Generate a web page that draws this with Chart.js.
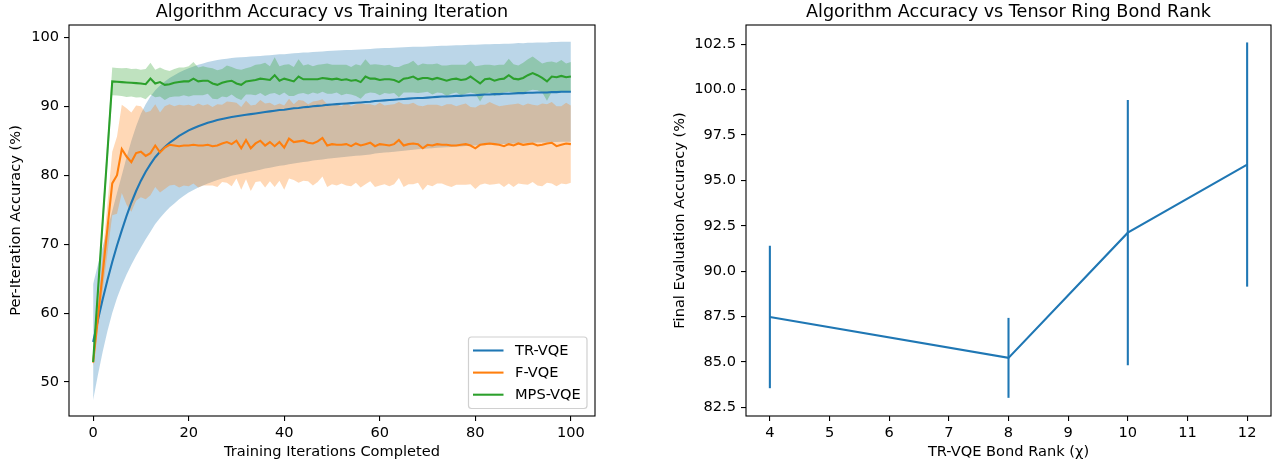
<!DOCTYPE html>
<html><head><meta charset="utf-8">
<script src="https://cdn.jsdelivr.net/npm/chart.js@4.4.1/dist/chart.umd.min.js"></script>
<style>
html,body{margin:0;padding:0;background:#fff;}
#wrap{position:relative;width:1278px;height:465px;overflow:hidden;background:#fff;}
canvas{position:absolute;top:0;}
#c1{left:0;} #c2{left:640px;}
</style></head><body>
<div id="wrap"><canvas id="c1" width="640" height="465"></canvas><canvas id="c2" width="638" height="465"></canvas></div>
<script>
// ---------------- DATA ----------------
const seriesNames = ['TR-VQE', 'F-VQE', 'MPS-VQE'];
const iterations = Array.from({length: 101}, (_, i) => i);

const trMean = [55.8,59.0,62.0,64.8,67.4,69.8,72.0,74.1,76.0,77.7,
 79.2,80.5,81.6,82.6,83.4,84.1,84.7,85.2,85.7,86.1,
 86.5,86.8,87.1,87.35,87.6,87.8,88.0,88.15,88.3,88.45,
 88.55,88.65,88.75,88.85,88.95,89.05,89.15,89.25,89.35,89.45,
 89.5,89.6,89.7,89.75,89.85,89.9,90.0,90.05,90.1,90.2,
 90.25,90.3,90.35,90.4,90.45,90.5,90.55,90.6,90.65,90.75,
 90.8,90.85,90.9,90.95,91.0,91.05,91.1,91.15,91.2,91.2,
 91.25,91.3,91.35,91.4,91.4,91.45,91.5,91.5,91.55,91.6,
 91.6,91.65,91.7,91.7,91.75,91.75,91.8,91.8,91.85,91.9,
 91.9,91.95,91.95,92.0,92.0,92.0,92.05,92.05,92.1,92.1,
 92.1];
const trStd = [8.4,8.0,7.6,7.4,7.4,7.6,8.0,8.5,9.0,9.4,
 9.7,9.8,9.8,9.7,9.6,9.5,9.4,9.3,9.2,9.1,
 9.0,8.95,8.9,8.85,8.8,8.75,8.7,8.65,8.6,8.55,
 8.5,8.45,8.4,8.35,8.3,8.25,8.2,8.16,8.12,8.08,
 8.05,8.02,7.99,7.96,7.93,7.9,7.88,7.86,7.84,7.82,
 7.8,7.78,7.76,7.74,7.72,7.7,7.68,7.66,7.64,7.62,
 7.6,7.58,7.56,7.54,7.52,7.5,7.48,7.46,7.44,7.42,
 7.4,7.39,7.38,7.37,7.36,7.35,7.34,7.33,7.32,7.31,
 7.3,7.3,7.29,7.29,7.28,7.28,7.27,7.27,7.26,7.26,
 7.25,7.25,7.25,7.25,7.25,7.25,7.25,7.25,7.25,7.25,
 7.25];

const fMean = [52.8,59.3,65.8,72.3,78.8,80.0,83.8,82.7,81.9,83.2,
 83.4,82.8,83.2,84.3,83.3,84.0,84.4,84.3,84.2,84.3,
 84.3,84.4,84.3,84.3,84.4,84.2,84.3,84.6,84.8,84.5,
 85.0,83.9,85.1,83.9,84.6,85.0,84.3,84.8,84.2,84.8,
 84.0,85.3,84.8,84.9,85.0,84.7,84.6,84.9,85.4,84.3,
 84.5,84.4,84.4,84.5,84.2,84.6,84.3,84.5,84.7,84.2,
 84.5,84.4,84.3,84.5,85.1,84.3,84.5,84.6,84.5,83.9,
 84.4,84.3,84.5,84.4,84.4,84.3,84.3,84.4,84.5,84.3,
 83.9,84.4,84.5,84.6,84.5,84.4,84.2,84.5,84.3,84.6,
 84.4,84.5,84.6,84.3,84.4,84.6,84.7,84.2,84.4,84.6,
 84.5];
const fStd = [0.6,1.6,2.6,3.6,4.6,5.6,6.4,7.0,7.2,6.9,
 6.6,6.3,6.1,6.0,5.8,6.0,5.9,5.7,6.0,5.8,
 5.9,5.6,6.1,5.8,5.9,5.7,6.0,5.6,5.9,6.1,
 5.5,6.0,5.7,6.2,5.6,5.9,6.1,5.7,5.9,5.6,
 6.1,5.8,5.5,6.0,5.8,5.6,6.1,5.9,5.6,6.0,
 5.8,5.9,5.6,6.0,5.8,5.7,6.1,5.8,5.6,5.9,
 6.0,5.7,5.9,5.8,5.5,6.0,5.8,5.9,5.6,6.1,
 5.8,5.9,5.7,5.6,5.9,6.0,5.7,5.8,5.9,5.6,
 5.9,5.8,5.7,6.0,5.8,5.6,5.9,5.7,6.0,5.8,
 5.7,5.9,5.6,5.8,6.0,5.7,5.9,5.8,5.6,5.9,
 5.6];

const mpsMean = [52.9,63.1,73.3,83.4,93.6,93.55,93.5,93.45,93.4,93.35,
 93.3,93.2,94.0,93.3,93.5,93.1,93.2,93.4,93.5,93.6,
 93.6,94.0,93.6,93.7,93.7,93.3,93.1,93.4,93.6,93.7,
 93.3,93.1,93.6,93.7,93.8,94.0,93.9,93.8,94.5,93.7,
 94.0,93.8,93.6,94.3,93.9,93.9,93.9,93.9,94.1,94.0,
 93.9,94.0,93.8,93.9,93.7,93.8,93.5,94.3,94.0,94.0,
 93.8,93.9,93.9,93.8,93.5,94.0,94.1,94.3,93.9,94.1,
 94.1,93.9,94.1,93.9,93.7,93.9,94.0,93.8,93.9,94.3,
 93.8,93.3,93.9,94.0,93.7,93.9,94.0,94.5,94.0,93.9,
 94.1,94.5,94.8,94.5,94.1,93.6,94.3,94.2,94.4,94.2,
 94.3];
const mpsStd = [0.5,1.0,1.5,1.8,2.0,2.0,2.0,2.1,2.0,2.1,
 2.0,2.2,2.3,2.0,2.1,2.2,1.9,2.0,2.1,2.0,
 2.2,2.4,2.0,2.1,1.9,2.2,2.1,2.0,2.3,2.0,
 2.1,2.2,1.9,2.0,2.2,2.1,2.4,2.0,2.6,2.1,
 2.0,2.3,2.1,2.5,2.0,2.2,1.9,2.1,2.0,2.2,
 2.1,2.0,2.2,2.1,2.0,2.3,2.4,2.5,2.0,2.1,
 2.2,2.0,2.1,1.9,2.2,2.0,2.1,2.3,2.0,2.1,
 2.0,2.2,2.1,2.0,2.2,2.1,2.0,2.2,2.1,2.3,
 2.0,2.6,2.1,2.0,2.2,2.1,2.0,2.4,2.1,2.0,
 2.2,2.3,2.4,2.2,2.1,2.8,2.2,2.1,2.3,2.0,
 2.1];

const xTicksLeft = [0, 20, 40, 60, 80, 100];
const yTicksLeft = [50, 60, 70, 80, 90, 100];

const bondRanks = [4, 8, 10, 12];
const rankMean = [87.48, 85.23, 92.12, 95.87];
const rankErr = [3.92, 2.2, 7.3, 6.72];
const xTicksRight = [4, 5, 6, 7, 8, 9, 10, 11, 12];
const yTicksRight = [82.5, 85.0, 87.5, 90.0, 92.5, 95.0, 97.5, 100.0, 102.5];

// ---------------- STYLE ----------------
const FONT = 'DejaVu Sans';
const lineColors = ['#1f77b4', '#ff7f0e', '#2ca02c'];
const bandColors = ['rgba(31,119,180,0.3)', 'rgba(255,127,14,0.3)', 'rgba(44,160,44,0.3)'];
const FS = 14.6;
const tickFont = {family: FONT, size: FS};
const LW = 2.08;

Chart.defaults.font.family = FONT;
Chart.defaults.color = '#000';

function frameTitlePlugin(title) {
  return {
    id: 'frameTitle',
    afterDraw(chart) {
      const {ctx, chartArea: a} = chart;
      ctx.save();
      ctx.strokeStyle = '#000';
      ctx.lineWidth = 1.1;
      ctx.strokeRect(a.left, a.top, a.right - a.left, a.bottom - a.top);
      ctx.fillStyle = '#000';
      ctx.font = '17.6px "' + FONT + '"';
      ctx.textAlign = 'center';
      ctx.textBaseline = 'alphabetic';
      ctx.fillText(title, (a.left + a.right) / 2, 16.5);
      ctx.restore();
    }
  };
}

const legendPlugin = {
  id: 'mplLegend',
  afterDraw(chart) {
    const {ctx, chartArea: a} = chart;
    const right = a.right - 8, bottom = a.bottom - 7.5;
    const w = 118.5, h = 71.5;
    const left = right - w, top = bottom - h;
    ctx.save();
    ctx.beginPath();
    if (ctx.roundRect) ctx.roundRect(left, top, w, h, 3); else ctx.rect(left, top, w, h);
    ctx.fillStyle = 'rgba(255,255,255,0.8)';
    ctx.fill();
    ctx.strokeStyle = '#d0d0d0';
    ctx.lineWidth = 1.2;
    ctx.stroke();
    ctx.font = FS + 'px "' + FONT + '"';
    ctx.textBaseline = 'middle';
    ctx.textAlign = 'left';
    seriesNames.forEach((name, i) => {
      const y = top + 13.5 + i * 22.1;
      ctx.strokeStyle = lineColors[i];
      ctx.lineWidth = LW;
      ctx.beginPath();
      ctx.moveTo(left + 4.5, y);
      ctx.lineTo(left + 35, y);
      ctx.stroke();
      ctx.fillStyle = '#000';
      ctx.fillText(name, left + 46.5, y + 0.5);
    });
    ctx.restore();
  }
};

const errorBarPlugin = {
  id: 'errBars',
  afterDatasetsDraw(chart) {
    const {ctx, scales: {x, y}} = chart;
    ctx.save();
    ctx.strokeStyle = lineColors[0];
    ctx.lineWidth = LW;
    bondRanks.forEach((r, i) => {
      const px = x.getPixelForValue(r);
      ctx.beginPath();
      ctx.moveTo(px, y.getPixelForValue(rankMean[i] - rankErr[i]));
      ctx.lineTo(px, y.getPixelForValue(rankMean[i] + rankErr[i]));
      ctx.stroke();
    });
    ctx.restore();
  }
};

function axis(opts) {
  return Object.assign({
    type: 'linear',
    grid: {drawOnChartArea: false, drawTicks: true, tickLength: 5, color: '#000', lineWidth: 1.1},
    border: {display: false},
  }, opts);
}

// ---------------- LEFT CHART ----------------
const means = [trMean, fMean, mpsMean];
const stds = [trStd, fStd, mpsStd];
const leftDatasets = [];
means.forEach((m, s) => {
  leftDatasets.push({
    label: '_lo' + s,
    data: iterations.map((x, i) => ({x, y: m[i] - stds[s][i]})),
    borderColor: 'rgba(0,0,0,0)', borderWidth: 0, pointRadius: 0, fill: false,
    order: 13 - s
  });
  leftDatasets.push({
    label: '_hi' + s,
    data: iterations.map((x, i) => ({x, y: m[i] + stds[s][i]})),
    borderColor: 'rgba(0,0,0,0)', borderWidth: 0, pointRadius: 0,
    fill: '-1', backgroundColor: bandColors[s],
    order: 13 - s
  });
});
means.forEach((m, s) => {
  leftDatasets.push({
    label: seriesNames[s],
    data: iterations.map((x, i) => ({x, y: m[i]})),
    borderColor: lineColors[s], borderWidth: LW, pointRadius: 0, fill: false,
    tension: 0, order: 2 - s
  });
});

new Chart(document.getElementById('c1'), {
  type: 'line',
  data: {datasets: leftDatasets},
  options: {
    responsive: false, animation: false, devicePixelRatio: 1,
    layout: {padding: {left: 0, right: 45, top: 25, bottom: 0}},
    plugins: {legend: {display: false}, tooltip: {enabled: false}, filler: {drawTime: 'beforeDatasetsDraw'}},
    scales: {
      x: axis({
        min: -5.05, max: 105.05,
        afterBuildTicks: sc => { sc.ticks = xTicksLeft.map(v => ({value: v})); },
        afterFit: sc => { sc.height = 49; },
        ticks: {font: tickFont, color: '#000', padding: 3.5, maxRotation: 0, autoSkip: false, callback: v => String(v)},
        title: {display: true, text: 'Training Iterations Completed', font: tickFont, color: '#000', padding: {top: 0, bottom: 4.1}}
      }),
      y: axis({
        min: 45.07, max: 101.78,
        afterBuildTicks: sc => { sc.ticks = yTicksLeft.map(v => ({value: v})); },
        afterFit: sc => { sc.width = 69; },
        ticks: {font: tickFont, color: '#000', padding: 5, autoSkip: false, callback: v => String(v)},
        title: {display: true, text: 'Per-Iteration Accuracy (%)', font: tickFont, color: '#000', padding: {top: 7.1, bottom: 0}}
      })
    }
  },
  plugins: [frameTitlePlugin('Algorithm Accuracy vs Training Iteration'), legendPlugin]
});

// ---------------- RIGHT CHART ----------------
new Chart(document.getElementById('c2'), {
  type: 'line',
  data: {datasets: [{
    label: 'TR-VQE',
    data: bondRanks.map((x, i) => ({x, y: rankMean[i]})),
    borderColor: lineColors[0], borderWidth: LW, pointRadius: 0, fill: false, tension: 0
  }]},
  options: {
    responsive: false, animation: false, devicePixelRatio: 1,
    layout: {padding: {left: 0, right: 7, top: 25, bottom: 0}},
    plugins: {legend: {display: false}, tooltip: {enabled: false}},
    scales: {
      x: axis({
        min: 3.6, max: 12.4,
        afterBuildTicks: sc => { sc.ticks = xTicksRight.map(v => ({value: v})); },
        afterFit: sc => { sc.height = 49; },
        ticks: {font: tickFont, color: '#000', padding: 3.5, maxRotation: 0, autoSkip: false, callback: v => String(v)},
        title: {display: true, text: 'TR-VQE Bond Rank (χ)', font: tickFont, color: '#000', padding: {top: 0, bottom: 4.1}}
      }),
      y: axis({
        min: 82.03, max: 103.55,
        afterBuildTicks: sc => { sc.ticks = yTicksRight.map(v => ({value: v})); },
        afterFit: sc => { sc.width = 106; },
        ticks: {font: tickFont, color: '#000', padding: 5, autoSkip: false, callback: v => Number(v).toFixed(1)},
        title: {display: true, text: 'Final Evaluation Accuracy (%)', font: tickFont, color: '#000', padding: {top: 31.1, bottom: 0}}
      })
    }
  },
  plugins: [frameTitlePlugin('Algorithm Accuracy vs Tensor Ring Bond Rank'), errorBarPlugin]
});
</script>
</body></html>
